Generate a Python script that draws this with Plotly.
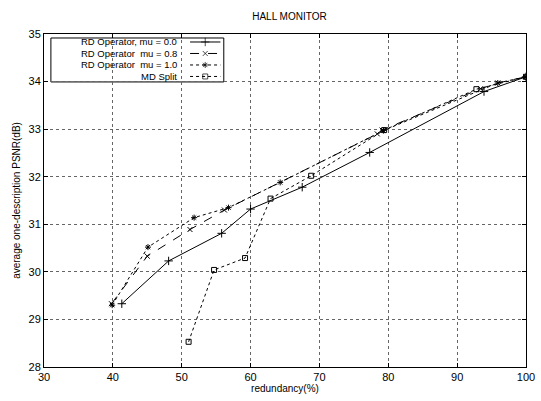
import plotly.graph_objects as go

# ---- data ----
x_mu00 = [41.3, 48.1, 55.8, 60.0, 67.5, 77.3, 93.9, 100.0]
y_mu00 = [29.33, 30.23, 30.81, 31.32, 31.78, 32.51, 33.79, 34.10]

x_mu08 = [39.8, 45.0, 51.2, 56.2, 78.4, 79.1, 93.4, 95.9, 100.0]
y_mu08 = [29.33, 30.33, 30.89, 31.30, 32.90, 32.98, 33.85, 33.97, 34.10]

x_mu10 = [39.9, 45.1, 51.8, 56.8, 64.3, 79.3, 95.9, 100.0]
y_mu10 = [29.30, 30.52, 31.14, 31.35, 31.88, 32.97, 33.97, 34.10]

x_md = [51.0, 54.7, 59.2, 62.9, 68.8, 79.4, 92.8, 100.0]
y_md = [28.53, 30.04, 30.29, 31.54, 32.02, 32.98, 33.84, 34.10]

names = ["RD Operator, mu = 0.0", "RD Operator  mu = 0.8",
         "RD Operator  mu = 1.0", "MD Split"]
x_ticks = [30, 40, 50, 60, 70, 80, 90, 100]
y_ticks = [28, 29, 30, 31, 32, 33, 34, 35]

styles = [
    dict(dash="solid", symbol="cross-thin-open", size=6),
    dict(dash="dash", symbol="x-thin-open", size=5),
    dict(dash="dot", symbol="asterisk-open", size=5),
    dict(dash="dot", symbol="square-open", size=5),
]
series = [(x_mu00, y_mu00), (x_mu08, y_mu08), (x_mu10, y_mu10), (x_md, y_md)]

fig = go.Figure()
for (xs, ys), nm, st in zip(series, names, styles):
    fig.add_trace(go.Scatter(
        x=xs, y=ys, name=nm, mode="lines+markers",
        line=dict(color="black", width=1, dash=st["dash"]),
        marker=dict(symbol=st["symbol"], size=st["size"], color="black",
                    line=dict(color="black", width=1)),
        showlegend=False))

# ---- custom legend (text left, sample right) on an overlay axis in paper units ----
row_y = [0.976 - i * 0.0345 for i in range(4)]
for nm, st, ry in zip(names, styles, row_y):
    fig.add_trace(go.Scatter(
        x=[0.303, 0.3345, 0.366], y=[ry, ry, ry], xaxis="x2", yaxis="y2",
        mode="lines+markers", showlegend=False, hoverinfo="skip",
        line=dict(color="black", width=1, dash=st["dash"]),
        marker=dict(symbol=st["symbol"], size=[0, st["size"], 0], color="black",
                    line=dict(color="black", width=1))))
    fig.add_annotation(x=0.292, y=ry, xref="paper", yref="paper", text=nm,
                       showarrow=False, xanchor="right", yanchor="middle",
                       borderpad=0, xshift=-7,
                       font=dict(family="Liberation Sans, Arial", size=9.5, color="black"))

fig.add_shape(type="rect", xref="paper", yref="paper", x0=0.0143, x1=0.373,
              y0=0.856, y1=0.988, line=dict(color="black", width=1),
              fillcolor="white", layer="between")

axis_common = dict(
    showline=True, linecolor="black", linewidth=1, mirror="ticks",
    ticks="inside", ticklen=4, tickcolor="black",
    showgrid=True, gridcolor="#666666", griddash="dot", gridwidth=1,
    zeroline=False, ticklabeloverflow="allow",
    tickfont=dict(family="Liberation Sans, Arial", size=11, color="black"),
)

fig.update_layout(
    width=541, height=401,
    margin=dict(l=44, r=6, t=34, b=34),
    paper_bgcolor="white", plot_bgcolor="white",
    title=dict(text="HALL MONITOR", x=0.535, xanchor="center", y=0.958, yanchor="middle",
               font=dict(family="Liberation Sans, Arial", size=10, color="black")),
    xaxis=dict(range=[30, 100], tickvals=x_ticks,
               title=dict(text="redundancy(%)", standoff=2,
                          font=dict(family="Liberation Sans, Arial", size=10, color="black")),
               **axis_common),
    yaxis=dict(range=[28, 35], tickvals=y_ticks,
               title=dict(text="average one-description PSNR(dB)", standoff=6,
                          font=dict(family="Liberation Sans, Arial", size=10, color="black")),
               **axis_common),
    xaxis2=dict(range=[0, 1], overlaying="x", visible=False, domain=[0, 1]),
    yaxis2=dict(range=[0, 1], overlaying="y", visible=False),
)

fig.write_html("out.html")
